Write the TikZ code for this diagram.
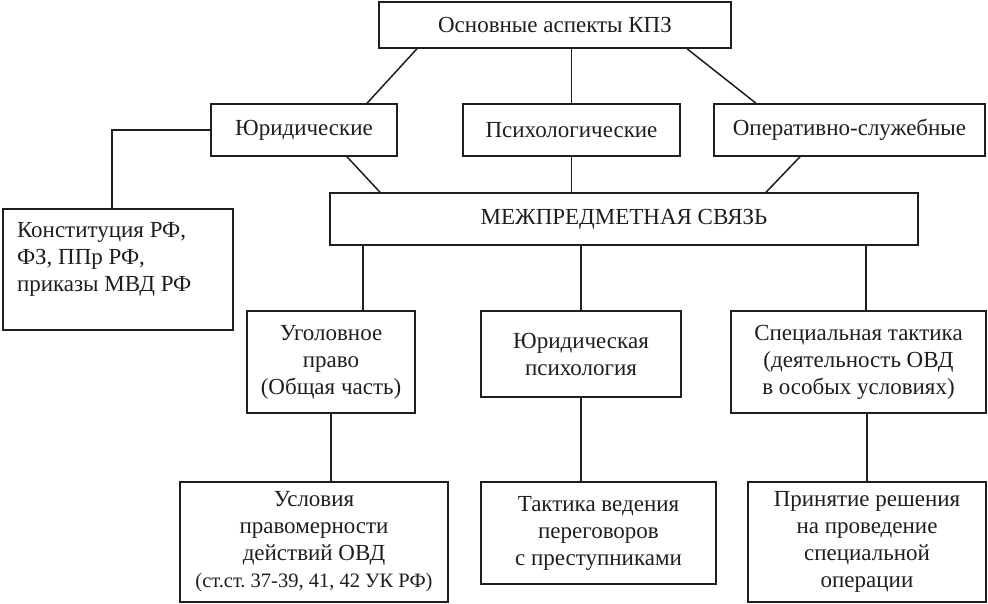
\documentclass[tikz,border=0pt]{standalone}
\usepackage{fontspec}
\setmainfont{Liberation Serif}
\frenchspacing
\definecolor{ink}{RGB}{30,30,30}
\tikzset{
  box/.style={draw=ink,text=ink,line width=1.5pt,align=center,inner sep=2pt},
}

\begin{document}
\begin{tikzpicture}[x=1pt,y=-1pt,line width=1.5pt,font=\fontsize{23}{27}\selectfont]
  \useasboundingbox (0,0) rectangle (988,604);
  % top level
  \node[box,minimum width=352,minimum height=46] (kpz) at (555,25) {Основные аспекты КПЗ};
  \node[box,minimum width=186,minimum height=52] (yur) at (304,130) {Юридические};
  \node[box,minimum width=217,minimum height=52] (psy) at (571.5,130) {Психологические};
  \node[box,minimum width=271,minimum height=52] (oper) at (849.5,130) {Оперативно-служебные};
  \node[box,minimum width=588,minimum height=52] (mezh) at (624,219) {МЕЖПРЕДМЕТНАЯ СВЯЗЬ};
  \node[box,minimum width=230,minimum height=121] (konst) at (118,269.5) {};
  \node[anchor=north west,align=left,text=ink,inner sep=0pt] (konsttxt)
    at ([xshift=14pt,yshift=-13pt]konst.north west) {Конституция РФ,\\ФЗ, ППр РФ,\\приказы МВД РФ};
  % disciplines
  \node[box,minimum width=168,minimum height=102] (ugol) at (331,362) {Уголовное\\право\\(Общая часть)};
  \node[box,minimum width=200,minimum height=86] (jpsy) at (581,354) {Юридическая\\психология};
  \node[box,minimum width=255,minimum height=102] (spec) at (858.5,362) {Специальная тактика\\(деятельность ОВД\\в особых условиях)};
  % results
  \node[box,minimum width=268,minimum height=120] (uslov) at (314,542)
    {Условия\\правомерности\\действий ОВД\\{\fontsize{20.5}{27}\selectfont(ст.ст. 37-39, 41, 42 УК РФ)}};
  \node[box,minimum width=235,minimum height=102] (takt) at (598.5,533) {Тактика ведения\\переговоров\\с преступниками};
  \node[box,minimum width=238,minimum height=120] (prin) at (867,542) {Принятие решения\\на проведение\\специальной\\операции};
  % connectors
  \draw[ink] ([xshift=-138pt]kpz.south) -- ([xshift=63pt]yur.north);
  \draw[ink] (psy.north) -- (psy.north |- kpz.south);
  \draw[ink] ([xshift=132pt]kpz.south) -- ([xshift=-93.5pt]oper.north);
  \draw[ink] ([xshift=43pt]yur.south) -- ([xshift=-244pt]mezh.north);
  \draw[ink] (psy.south) -- (psy.south |- mezh.north);
  \draw[ink] ([xshift=-49.5pt]oper.south) -- ([xshift=142pt]mezh.north);
  \draw[ink] (yur.west) -| ([xshift=-6pt]konst.north);
  \draw[ink] ([xshift=32pt]ugol.north) -- ([xshift=32pt]ugol.north |- mezh.south);
  \draw[ink] (jpsy.north) -- (jpsy.north |- mezh.south);
  \draw[ink] ([xshift=7.5pt]spec.north) -- ([xshift=7.5pt]spec.north |- mezh.south);
  \draw[ink] (ugol.south) -- (ugol.south |- uslov.north);
  \draw[ink] (jpsy.south) -- (jpsy.south |- takt.north);
  \draw[ink] (prin.north) -- (prin.north |- spec.south);
\end{tikzpicture}
\end{document}
